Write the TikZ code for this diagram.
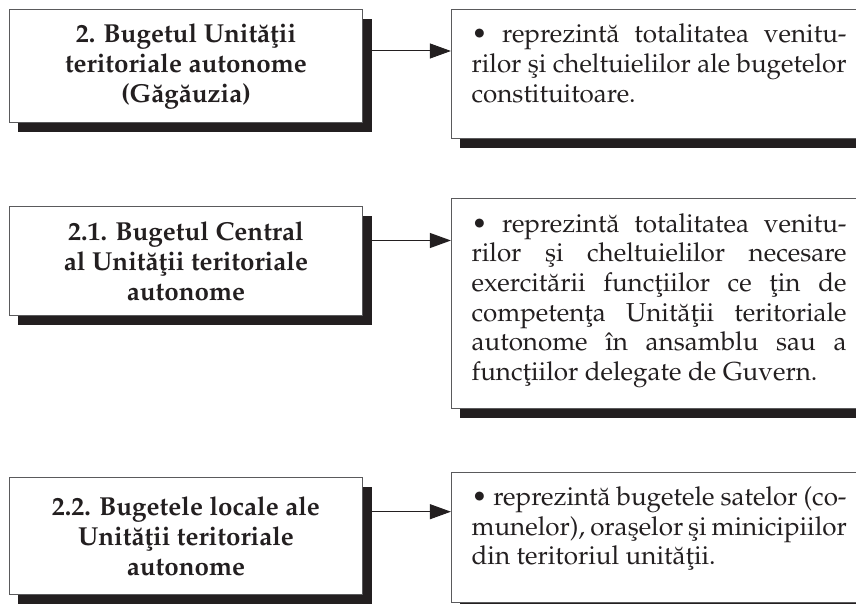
\documentclass[tikz,border=0pt]{standalone}
\usepackage[T1]{fontenc}
\usepackage{mathpazo}
\usetikzlibrary{arrows.meta,shadows,calc}

\definecolor{ink}{HTML}{231F20}
\definecolor{edge}{HTML}{5A5A5C}

\tikzset{
  boxshadow/.style={drop shadow={shadow xshift=9pt, shadow yshift=-9.5pt, fill=ink, opacity=1}},
  titlebox/.style={rectangle, draw=edge, line width=1.1pt, fill=white, inner sep=0pt,
    minimum width=353.5pt, align=center, text=ink,
    font=\bfseries\fontsize{26}{30}\selectfont, boxshadow},
  notebox/.style={rectangle, draw=edge, line width=1.1pt, fill=white, inner sep=0pt,
    minimum width=428.5pt, boxshadow},
  notetext/.style={anchor=base west, inner sep=0pt, text width=375pt, align=justify,
    text=ink, font=\fontsize{26}{29.6}\selectfont},
  link/.style={draw=ink, line width=1pt, -{Triangle[length=21pt,width=15pt]}}
}

% one full-width justified line that is never broken further
\newcommand{\fullline}[1]{\makebox[\linewidth][s]{#1}}

\begin{document}
\begin{tikzpicture}[x=1pt,y=1pt]
  \useasboundingbox (0,0) rectangle (856,-604);
  \clip (0,0) rectangle (856,-604);
  \hyphenpenalty=10000 \exhyphenpenalty=10000

  % left column: budget titles
  \node[titlebox, minimum height=113.2pt] (L1) at (186,-66.2)
    {2. Bugetul Unit\u{a}\c{t}ii\\teritoriale autonome\\(G\u{a}g\u{a}uzia)};
  \node[titlebox, minimum height=109pt] (L2) at (186,-261)
    {2.1. Bugetul Central\\al Unit\u{a}\c{t}ii teritoriale\\autonome};
  \node[titlebox, minimum height=117.3pt] (L3) at (186,-535.8)
    {2.2. Bugetele locale ale\\Unit\u{a}\c{t}ii teritoriale\\autonome};

  % right column: descriptions
  \node[notebox, minimum height=129.3pt] (R1) at (665.7,-74.2) {};
  \node[notebox, minimum height=210pt] (R2) at (665.7,-303.8) {};
  \node[notebox, minimum height=130pt] (R3) at (665.7,-537.2) {};

  \node[notetext] (T1) at ($(R1.north west)+(20.5,-34)$)
    {\textbullet{} reprezint\u{a} totalitatea venitu-\linebreak
     rilor \c{s}i cheltuielilor ale bugetelor\linebreak
     constituitoare.};
  \node[notetext] (T2) at ($(R2.north west)+(20.5,-34)$)
    {\textbullet{} reprezint\u{a} totalitatea venitu-\linebreak
     rilor \c{s}i cheltuielilor necesare\linebreak
     exercit\u{a}rii func\c{t}iilor ce \c{t}in de\linebreak
     competen\c{t}a Unit\u{a}\c{t}ii teritoriale\linebreak
     autonome \^{\i}n ansamblu sau a\linebreak
     func\c{t}iilor delegate de Guvern.};
  \node[notetext] (T3) at ($(R3.north west)+(20.5,-34)$)
    {\textbullet{} reprezint\u{a} bugetele satelor (co-\linebreak
     \fullline{munelor), ora\c{s}elor \c{s}i minicipiilor}\linebreak
     din teritoriul unit\u{a}\c{t}ii.};

  % connectors
  \coordinate (a1) at (0,-51);
  \coordinate (a2) at (0,-240.5);
  \coordinate (a3) at (0,-511.7);
  \draw[link] ($(L1.east |- a1)+(9,0)$) -- (R1.west |- a1);
  \draw[link] ($(L2.east |- a2)+(9,0)$) -- (R2.west |- a2);
  \draw[link] ($(L3.east |- a3)+(9,0)$) -- (R3.west |- a3);
\end{tikzpicture}
\end{document}
